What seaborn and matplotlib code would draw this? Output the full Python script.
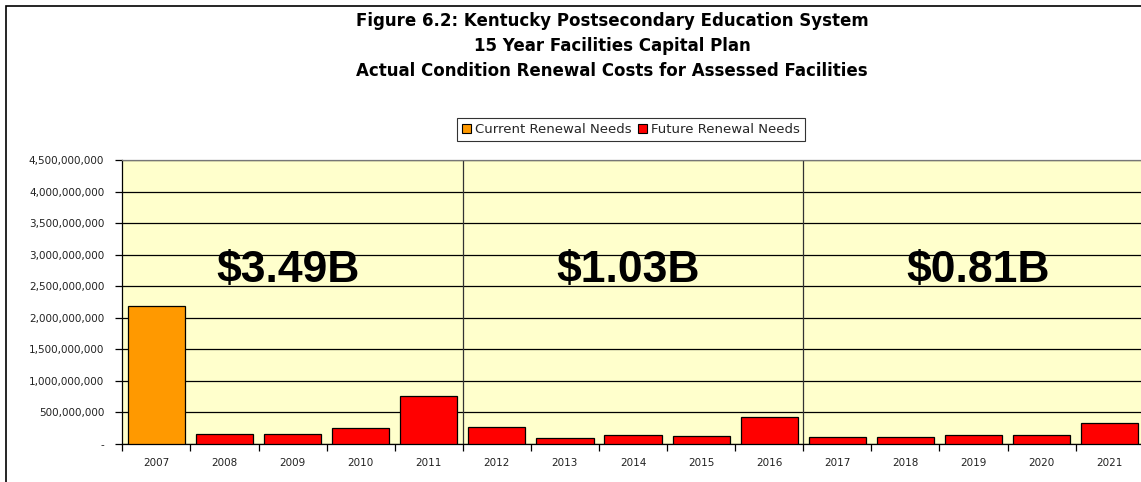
import matplotlib
matplotlib.use("Agg")
import matplotlib.pyplot as plt
from matplotlib.patches import Rectangle, Patch
from matplotlib.ticker import FuncFormatter, MultipleLocator
import seaborn as sns
import pandas as pd

years = ["2007", "2008", "2009", "2010", "2011", "2012", "2013", "2014",
         "2015", "2016", "2017", "2018", "2019", "2020", "2021"]
renewal_costs = [2180e6, 150e6, 150e6, 255e6, 755e6,
                 270e6, 90e6, 132e6, 116e6, 418e6,
                 106e6, 106e6, 135e6, 135e6, 328e6]
need_type = ["Current Renewal Needs"] + ["Future Renewal Needs"] * 14
period_totals = ["$3.49B", "$1.03B", "$0.81B"]
period_label_pos = [1.93, 6.93, 12.07]
title_lines = ["Figure 6.2: Kentucky Postsecondary Education System",
               "15 Year Facilities Capital Plan",
               "Actual Condition Renewal Costs for Assessed Facilities"]

colors = {"Current Renewal Needs": "#FF9900", "Future Renewal Needs": "#FF0000"}

df = pd.DataFrame({"year": years, "cost": renewal_costs, "type": need_type})

sns.set_style("white")
plt.rcParams["font.family"] = ["DejaVu Sans"]

fig = plt.figure(figsize=(11.41, 4.82), dpi=100)
ax = fig.add_axes([0.1072, 0.0795, 0.8952, 0.5879])
ax.set_facecolor("#FFFFCC")

sns.barplot(data=df, x="year", y="cost", hue="type", palette=colors,
            saturation=1, dodge=False, width=0.84, edgecolor="black",
            linewidth=0.9, legend=False, ax=ax, zorder=3)

ax.set_ylim(0, 4.5e9)
ax.set_xlim(-0.5, len(years) - 0.5)
ax.yaxis.set_major_locator(MultipleLocator(5e8))
ax.yaxis.set_major_formatter(FuncFormatter(lambda v, p: "-" if v == 0 else f"{v:,.0f}"))
ax.grid(axis="y", color="black", linewidth=0.9, zorder=1)
ax.set_axisbelow(True)
ax.set_xlabel("")
ax.set_ylabel("")

# period separators
for xb in (4.5, 9.5):
    ax.axvline(xb, color="#333333", linewidth=0.9, zorder=2)

# tick marks between categories, labels on categories
ax.set_xticks([i + 0.5 for i in range(-1, len(years))], minor=True)
ax.tick_params(axis="x", which="minor", length=5, width=0.9, color="black", direction="out")
ax.tick_params(axis="x", which="major", length=0, labelsize=7.5, pad=10, labelcolor="#222222")
ax.tick_params(axis="y", length=5, width=0.9, color="black", direction="out",
               labelsize=7.5, pad=8, labelcolor="#222222")
ax.yaxis.set_ticks_position("left")
ax.xaxis.set_ticks_position("bottom")

for side in ("left", "bottom"):
    ax.spines[side].set_color("black")
    ax.spines[side].set_linewidth(0.9)
ax.spines["top"].set_color("#777777")
ax.spines["top"].set_linewidth(0.9)
ax.spines["right"].set_visible(False)

for label, xpos in zip(period_totals, period_label_pos):
    ax.text(xpos, 2.757e9, label, ha="center", va="center", fontsize=32,
            fontweight="bold", family="Liberation Sans", color="black", zorder=4)

handles = [Patch(facecolor=colors[k], edgecolor="black", linewidth=0.8, label=k)
           for k in colors]
leg = fig.legend(handles=handles, loc="center", bbox_to_anchor=(0.553, 0.7313),
                 ncol=2, fontsize=9.5, frameon=True, fancybox=False,
                 handlelength=0.7, handleheight=0.7, handletextpad=0.3,
                 columnspacing=0.5, borderpad=0.35, borderaxespad=0)
leg.get_frame().set_edgecolor("black")
leg.get_frame().set_linewidth(0.8)

for i, line in enumerate(title_lines):
    fig.text(0.5364, 0.9564 - i * 0.0519, line, ha="center", va="center",
             fontsize=12, fontweight="bold", color="black")

fig.patches.append(Rectangle((5.5 / 1141, -0.1), 1.2, 1.1 - 5.5 / 482,
                             transform=fig.transFigure, fill=False,
                             edgecolor="black", linewidth=1.2))

fig.savefig("out.png", dpi=100, facecolor="white")
